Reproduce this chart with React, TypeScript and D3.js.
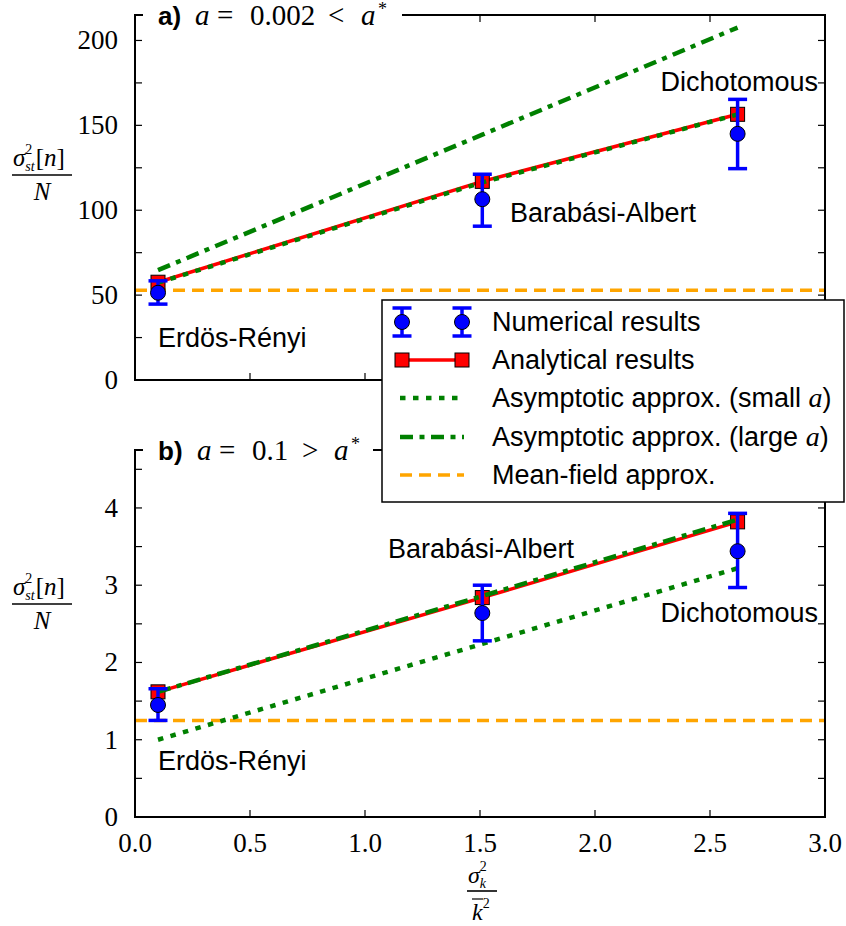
import React from 'react';
import * as d3 from 'd3';

// ---------- data ----------
const networkX = [0.1, 1.51, 2.62];
const networkNames = ['Erdös-Rényi', 'Barabási-Albert', 'Dichotomous'];

// panel a) a = 0.002
const aAnalytical = [57.6, 117.0, 156.5];
const aNumerical = [51.4, 106.5, 145.0];
const aNumLow = [44.7, 90.6, 124.5];
const aNumHigh = [58.4, 121.2, 165.3];
const aSmallApprox = [57.3, 116.4, 156.4];
const aLargeApprox = [64.7, 144.5, 207.6];
const aMeanField = 52.9;

// panel b) a = 0.1
const bAnalytical = [1.62, 2.84, 3.82];
const bNumerical = [1.45, 2.64, 3.44];
const bNumLow = [1.25, 2.28, 2.97];
const bNumHigh = [1.66, 3.0, 3.93];
const bSmallApprox = [1.0, 2.24, 3.22];
const bLargeApprox = [1.62, 2.86, 3.85];
const bMeanField = 1.25;

const xTicks = [0, 0.5, 1.0, 1.5, 2.0, 2.5, 3.0];
const aYTicks = [0, 25, 50, 75, 100, 125, 150, 175, 200];
const aYLabels = [0, 50, 100, 150, 200];
const bYTicks = [0, 0.5, 1, 1.5, 2, 2.5, 3, 3.5, 4, 4.5];
const bYLabels = [0, 1, 2, 3, 4];

// annotation positions in data coordinates [x, y] (left, baseline)
const aAnnot = [[0.1, 19.5], [1.63, 93], [2.285, 170.5]];
const bAnnot = [[0.1, 0.61], [1.1, 3.35], [2.285, 2.52]];

// ---------- style ----------
const LEFT = 135;
const RIGHT = 825;
const SANS = '"Liberation Sans", Arial, Helvetica, sans-serif';
const SERIF = '"Liberation Serif", "Times New Roman", serif';
const BLUE = '#0000ff';
const RED = '#ff0000';
const GREEN = '#008000';
const ORANGE = '#ffa500';

type PanelProps = {
  top: number;
  bottom: number;
  ymax: number;
  yTicks: number[];
  yLabels: number[];
  showXLabels: boolean;
  analytical: number[];
  numerical: number[];
  low: number[];
  high: number[];
  small: number[];
  large: number[];
  mean: number;
  annot: number[][];
  clipId: string;
};

function Panel(p: PanelProps) {
  const x = d3.scaleLinear().domain([0, 3]).range([LEFT, RIGHT]);
  const y = d3.scaleLinear().domain([0, p.ymax]).range([p.bottom, p.top]);
  const line = d3
    .line<[number, number]>()
    .x((d) => x(d[0]))
    .y((d) => y(d[1]));
  const pts = (vals: number[]) => networkX.map((xx, i) => [xx, vals[i]] as [number, number]);
  const tl = 7;
  return (
    <g>
      <defs>
        <clipPath id={p.clipId}>
          <rect x={LEFT} y={p.top} width={RIGHT - LEFT} height={p.bottom - p.top} />
        </clipPath>
      </defs>
      <g clipPath={`url(#${p.clipId})`}>
        <line x1={x(0)} x2={x(3)} y1={y(p.mean)} y2={y(p.mean)} stroke={ORANGE} strokeWidth={3.5} strokeDasharray="12 7" />
        <path d={line(pts(p.analytical)) || ''} fill="none" stroke={RED} strokeWidth={3.5} />
        {networkX.map((xx, i) => (
          <rect key={'sq' + i} x={x(xx) - 7} y={y(p.analytical[i]) - 7} width={14} height={14} fill={RED} stroke="#000" strokeWidth={1} />
        ))}
        <path d={line(pts(p.small)) || ''} fill="none" stroke={GREEN} strokeWidth={4.5} strokeDasharray="5.5 7.5" />
        <path d={line(pts(p.large)) || ''} fill="none" stroke={GREEN} strokeWidth={4.5} strokeDasharray="13 6.5 5 6.5" />
        {networkX.map((xx, i) => (
          <g key={'eb' + i}>
            <line x1={x(xx)} x2={x(xx)} y1={y(p.low[i])} y2={y(p.high[i])} stroke={BLUE} strokeWidth={3.5} />
            <line x1={x(xx) - 9.5} x2={x(xx) + 9.5} y1={y(p.low[i])} y2={y(p.low[i])} stroke={BLUE} strokeWidth={3.5} />
            <line x1={x(xx) - 9.5} x2={x(xx) + 9.5} y1={y(p.high[i])} y2={y(p.high[i])} stroke={BLUE} strokeWidth={3.5} />
            <circle cx={x(xx)} cy={y(p.numerical[i])} r={7.5} fill={BLUE} stroke="#000" strokeWidth={1} />
          </g>
        ))}
      </g>
      {/* ticks */}
      {xTicks.map((t) => (
        <g key={'xt' + t}>
          <line x1={x(t)} x2={x(t)} y1={p.bottom} y2={p.bottom - tl} stroke="#000" strokeWidth={1.2} />
          <line x1={x(t)} x2={x(t)} y1={p.top} y2={p.top + tl} stroke="#000" strokeWidth={1.2} />
          {p.showXLabels && (
            <text x={x(t)} y={p.bottom + 35} textAnchor="middle" fontFamily={SERIF} fontSize={27}>
              {t.toFixed(1)}
            </text>
          )}
        </g>
      ))}
      {p.yTicks.map((t) => (
        <g key={'yt' + t}>
          <line x1={LEFT} x2={LEFT + tl} y1={y(t)} y2={y(t)} stroke="#000" strokeWidth={1.2} />
          <line x1={RIGHT} x2={RIGHT - tl} y1={y(t)} y2={y(t)} stroke="#000" strokeWidth={1.2} />
        </g>
      ))}
      {p.yLabels.map((t) => (
        <text key={'yl' + t} x={LEFT - 17} y={y(t) + 9} textAnchor="end" fontFamily={SERIF} fontSize={27}>
          {String(t)}
        </text>
      ))}
      <rect x={LEFT} y={p.top} width={RIGHT - LEFT} height={p.bottom - p.top} fill="none" stroke="#000" strokeWidth={2} />
      {networkNames.map((n, i) => (
        <text key={'an' + i} x={x(p.annot[i][0])} y={y(p.annot[i][1])} fontFamily={SANS} fontSize={27}>
          {n}
        </text>
      ))}
    </g>
  );
}

function YLabel({ cy }: { cy: number }) {
  const cx = 42;
  return (
    <g fontFamily={SERIF}>
      <text x={cx - 29} y={cy - 9} fontSize={25}>
        <tspan fontStyle="italic">σ</tspan>
        <tspan fontSize={14} dy={-12}>2</tspan>
        <tspan fontSize={14} fontStyle="italic" dx={-7} dy={17}>st</tspan>
        <tspan dx={1} dy={-5}>[</tspan>
        <tspan fontStyle="italic">n</tspan>
        <tspan>]</tspan>
      </text>
      <line x1={cx - 30} x2={cx + 30} y1={cy} y2={cy} stroke="#000" strokeWidth={1.6} />
      <text x={cx} y={cy + 25} fontSize={25} fontStyle="italic" textAnchor="middle">N</text>
    </g>
  );
}

function XLabel({ cx, cy }: { cx: number; cy: number }) {
  return (
    <g fontFamily={SERIF}>
      <text x={cx - 14} y={cy - 8} fontSize={24}>
        <tspan fontStyle="italic">σ</tspan>
        <tspan fontSize={14} dx={0} dy={-12}>2</tspan>
        <tspan fontSize={14} fontStyle="italic" dx={-7} dy={17}>k</tspan>
      </text>
      <line x1={cx - 15} x2={cx + 15} y1={cy} y2={cy} stroke="#000" strokeWidth={1.6} />
      <line x1={cx - 10} x2={cx + 1} y1={cy + 8} y2={cy + 8} stroke="#000" strokeWidth={1.2} />
      <text x={cx - 10} y={cy + 29} fontSize={24}>
        <tspan fontStyle="italic">k</tspan>
        <tspan fontSize={14} dy={-12}>2</tspan>
      </text>
    </g>
  );
}

function Title({ label, top, parts, gapEnd }: { label: string; top: number; parts: [number, string, boolean, number?][]; gapEnd: number }) {
  return (
    <g>
      <rect x={143} y={top - 16} width={gapEnd - 143} height={30} fill="#fff" />
      <text x={158} y={top + 10} fontFamily={SANS} fontWeight="bold" fontSize={26}>
        {label}
      </text>
      <text y={top + 10} fontFamily={SERIF} fontSize={29}>
        {parts.map(([px, s, it, dy], i) => (
          <tspan key={i} x={px} y={top + 10 + (dy || 0)} fontSize={dy ? 18 : 29} fontStyle={it ? 'italic' : 'normal'}>
            {s}
          </tspan>
        ))}
      </text>
    </g>
  );
}

function Legend() {
  const x0 = 382, y0 = 300, w = 462, h = 202;
  const hx1 = 402, hx2 = 462, tx = 492;
  const rows = [322, 360, 398, 437, 475];
  return (
    <g>
      <rect x={x0} y={y0} width={w} height={h} fill="#fff" stroke="#000" strokeWidth={1.5} />
      {[hx1, hx2].map((hx) => (
        <g key={'l' + hx}>
          <line x1={hx} x2={hx} y1={rows[0] - 14} y2={rows[0] + 14} stroke={BLUE} strokeWidth={3.5} />
          <line x1={hx - 9.5} x2={hx + 9.5} y1={rows[0] - 14} y2={rows[0] - 14} stroke={BLUE} strokeWidth={3.5} />
          <line x1={hx - 9.5} x2={hx + 9.5} y1={rows[0] + 14} y2={rows[0] + 14} stroke={BLUE} strokeWidth={3.5} />
          <circle cx={hx} cy={rows[0]} r={7.5} fill={BLUE} stroke="#000" strokeWidth={1} />
        </g>
      ))}
      <line x1={hx1} x2={hx2} y1={rows[1]} y2={rows[1]} stroke={RED} strokeWidth={3.5} />
      {[hx1, hx2].map((hx) => (
        <rect key={'s' + hx} x={hx - 7} y={rows[1] - 7} width={14} height={14} fill={RED} stroke="#000" strokeWidth={1} />
      ))}
      <line x1={hx1 - 2} x2={hx2 + 2} y1={rows[2]} y2={rows[2]} stroke={GREEN} strokeWidth={4.5} strokeDasharray="5.5 7.5" />
      <line x1={hx1 - 2} x2={hx2 + 2} y1={rows[3]} y2={rows[3]} stroke={GREEN} strokeWidth={4.5} strokeDasharray="13 6.5 5 6.5" />
      <line x1={hx1 - 2} x2={hx2 + 2} y1={rows[4]} y2={rows[4]} stroke={ORANGE} strokeWidth={3.5} strokeDasharray="12 7" />
      <g fontFamily={SANS} fontSize={27}>
        <text x={tx} y={rows[0] + 9}>Numerical results</text>
        <text x={tx} y={rows[1] + 9}>Analytical results</text>
        <text x={tx} y={rows[2] + 9}>
          Asymptotic approx. (small <tspan fontFamily={SERIF} fontStyle="italic" fontSize={28}>a</tspan>)
        </text>
        <text x={tx} y={rows[3] + 9}>
          Asymptotic approx. (large <tspan fontFamily={SERIF} fontStyle="italic" fontSize={28}>a</tspan>)
        </text>
        <text x={tx} y={rows[4] + 9}>Mean-field approx.</text>
      </g>
    </g>
  );
}

export default function App() {
  return (
    <svg width={846} height={926} viewBox="0 0 846 926" style={{ position: 'absolute', left: 0, top: 0, background: '#fff' }}>
      <rect x={0} y={0} width={846} height={926} fill="#fff" />
      <Panel
        top={15}
        bottom={380}
        ymax={215}
        yTicks={aYTicks}
        yLabels={aYLabels}
        showXLabels={false}
        analytical={aAnalytical}
        numerical={aNumerical}
        low={aNumLow}
        high={aNumHigh}
        small={aSmallApprox}
        large={aLargeApprox}
        mean={aMeanField}
        annot={aAnnot}
        clipId="clipA"
      />
      <Panel
        top={450}
        bottom={817}
        ymax={4.75}
        yTicks={bYTicks}
        yLabels={bYLabels}
        showXLabels={true}
        analytical={bAnalytical}
        numerical={bNumerical}
        low={bNumLow}
        high={bNumHigh}
        small={bSmallApprox}
        large={bLargeApprox}
        mean={bMeanField}
        annot={bAnnot}
        clipId="clipB"
      />
      <Title
        label="a)"
        top={15}
        gapEnd={402}
        parts={[
          [195, 'a', true],
          [217, '=', false],
          [250, '0.002', false],
          [328, '<', false],
          [361, 'a', true],
          [378, '*', false, -10],
        ]}
      />
      <Title
        label="b)"
        top={450}
        gapEnd={373}
        parts={[
          [197, 'a', true],
          [219, '=', false],
          [252, '0.1', false],
          [302, '>', false],
          [334, 'a', true],
          [351, '*', false, -10],
        ]}
      />
      <YLabel cy={175} />
      <YLabel cy={604} />
      <XLabel cx={482} cy={891} />
      <Legend />
    </svg>
  );
}
